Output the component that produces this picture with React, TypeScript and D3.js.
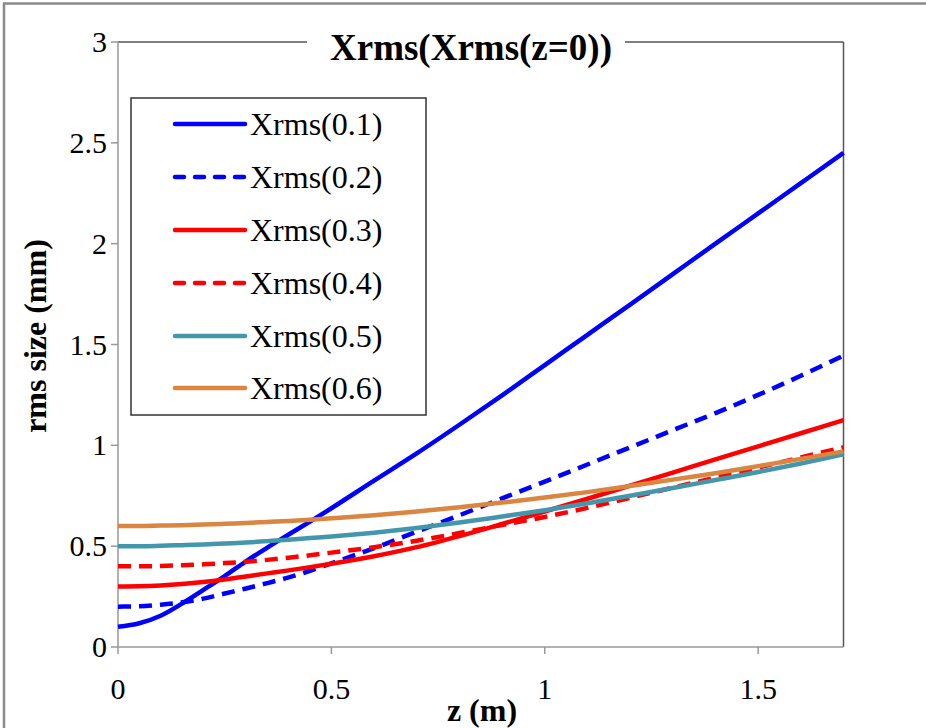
import React from "react";
import * as d3 from "d3";

const zValues = [0, 0.05, 0.1, 0.15, 0.2, 0.25, 0.3, 0.35, 0.4, 0.45, 0.5, 0.6, 0.7, 0.8, 0.9, 1.0, 1.1, 1.2, 1.3, 1.4, 1.5, 1.6, 1.7];

const xrms01 = [0.1, 0.118, 0.155, 0.215, 0.283, 0.352, 0.425, 0.493, 0.558, 0.622, 0.688, 0.825, 0.96, 1.102, 1.248, 1.398, 1.548, 1.698, 1.849, 2.0, 2.15, 2.3, 2.45];
const xrms02 = [0.2, 0.202, 0.21, 0.222, 0.24, 0.265, 0.29, 0.317, 0.345, 0.378, 0.415, 0.49, 0.572, 0.653, 0.737, 0.82, 0.905, 0.99, 1.075, 1.16, 1.25, 1.345, 1.445];
const xrms03 = [0.3, 0.301, 0.305, 0.312, 0.322, 0.335, 0.35, 0.365, 0.38, 0.396, 0.413, 0.45, 0.495, 0.55, 0.61, 0.672, 0.735, 0.8, 0.865, 0.93, 0.995, 1.06, 1.125];
const xrms04 = [0.4, 0.4, 0.402, 0.405, 0.41, 0.416, 0.423, 0.432, 0.443, 0.455, 0.468, 0.495, 0.527, 0.565, 0.605, 0.645, 0.69, 0.74, 0.79, 0.84, 0.89, 0.94, 0.99];
const xrms05 = [0.5, 0.5, 0.502, 0.505, 0.508, 0.513, 0.518, 0.525, 0.532, 0.54, 0.548, 0.567, 0.59, 0.617, 0.647, 0.678, 0.713, 0.75, 0.788, 0.828, 0.868, 0.91, 0.955];
const xrms06 = [0.6, 0.6, 0.602, 0.604, 0.607, 0.611, 0.615, 0.62, 0.625, 0.631, 0.638, 0.653, 0.672, 0.693, 0.716, 0.741, 0.768, 0.798, 0.83, 0.862, 0.897, 0.933, 0.97];

const seriesNames = ["Xrms(0.1)", "Xrms(0.2)", "Xrms(0.3)", "Xrms(0.4)", "Xrms(0.5)", "Xrms(0.6)"];
const seriesColors = ["#0000FF", "#0000FF", "#FF0000", "#FF0000", "#4297AD", "#DA8540"];
const seriesDashed = [false, true, false, true, false, false];
const seriesValues = [xrms01, xrms02, xrms03, xrms04, xrms05, xrms06];

const xTicks = [0, 0.5, 1, 1.5];
const yTicks = [0, 0.5, 1, 1.5, 2, 2.5, 3];

const title = "Xrms(Xrms(z=0))";
const xTitle = "z (m)";
const yTitle = "rms size (mm)";

export default function App() {
  const left = 118, right = 843.5, top = 42, bottom = 647;
  const x = d3.scaleLinear().domain([0, 1.7]).range([left, right]);
  const y = d3.scaleLinear().domain([0, 3]).range([bottom, top]);
  const line = d3
    .line<[number, number]>()
    .x((d) => x(d[0]))
    .y((d) => y(d[1]))
    .curve(d3.curveMonotoneX);
  const font = "'Liberation Serif', 'Times New Roman', serif";
  const legendRowY = [124, 177, 230, 283, 336, 388];

  return (
    <svg
      width={926}
      height={728}
      style={{ position: "absolute", left: 0, top: 0, background: "#fff" }}
      fontFamily={font}
    >
      <rect x={0} y={0} width={926} height={728} fill="#fff" />
      {/* outer frame */}
      <line x1={3} y1={3.5} x2={926} y2={3.5} stroke="#8a8a8a" strokeWidth={2.5} />
      <line x1={4} y1={3} x2={4} y2={728} stroke="#8a8a8a" strokeWidth={2.5} />

      {/* plot frame */}
      <line x1={left} y1={top} x2={right} y2={top} stroke="#555" strokeWidth={1.5} />
      <line x1={right} y1={top} x2={right} y2={bottom} stroke="#555" strokeWidth={1.5} />
      <line x1={left} y1={top} x2={left} y2={bottom} stroke="#999" strokeWidth={1.5} />
      <line x1={left} y1={bottom} x2={right} y2={bottom} stroke="#999" strokeWidth={1.5} />

      {/* y ticks */}
      {yTicks.map((t) => (
        <g key={"y" + t}>
          <line x1={left - 7} x2={left} y1={y(t)} y2={y(t)} stroke="#999" strokeWidth={1.5} />
          <text x={left - 11} y={y(t) + 10} textAnchor="end" fontSize={30} fill="#000">
            {t}
          </text>
        </g>
      ))}
      {/* x ticks */}
      {xTicks.map((t) => (
        <g key={"x" + t}>
          <line x1={x(t)} x2={x(t)} y1={bottom} y2={bottom + 7} stroke="#999" strokeWidth={1.5} />
          <text x={x(t)} y={bottom + 52} textAnchor="middle" fontSize={30} fill="#000">
            {t}
          </text>
        </g>
      ))}

      {/* series */}
      {seriesValues.map((vals, i) => (
        <path
          key={seriesNames[i]}
          d={line(zValues.map((z, j) => [z, vals[j]]) as [number, number][]) || ""}
          fill="none"
          stroke={seriesColors[i]}
          strokeWidth={4.5}
          strokeDasharray={seriesDashed[i] ? "13 8" : undefined}
          strokeLinejoin="round"
        />
      ))}

      {/* title */}
      <rect x={307} y={28} width={318} height={40} fill="#fff" />
      <text x={471} y={60} textAnchor="middle" fontSize={37} fontWeight="bold" fill="#000">
        {title}
      </text>

      {/* axis titles */}
      <text x={482} y={721} textAnchor="middle" fontSize={32} fontWeight="bold" fill="#000">
        {xTitle}
      </text>
      <text
        transform={`translate(46, 336) rotate(-90)`}
        textAnchor="middle"
        fontSize={32}
        fontWeight="bold"
        fill="#000"
      >
        {yTitle}
      </text>

      {/* legend */}
      <rect x={131} y={98} width={295} height={317} fill="#fff" stroke="#333" strokeWidth={1.5} />
      {seriesNames.map((name, i) => (
        <g key={"lg" + name}>
          <line
            x1={175}
            x2={245}
            y1={legendRowY[i]}
            y2={legendRowY[i]}
            stroke={seriesColors[i]}
            strokeWidth={4.5}
            strokeLinecap="round"
            strokeDasharray={seriesDashed[i] ? "9 11" : undefined}
          />
          <text x={250} y={legendRowY[i] + 11} fontSize={32} fill="#000">
            {name}
          </text>
        </g>
      ))}
    </svg>
  );
}
